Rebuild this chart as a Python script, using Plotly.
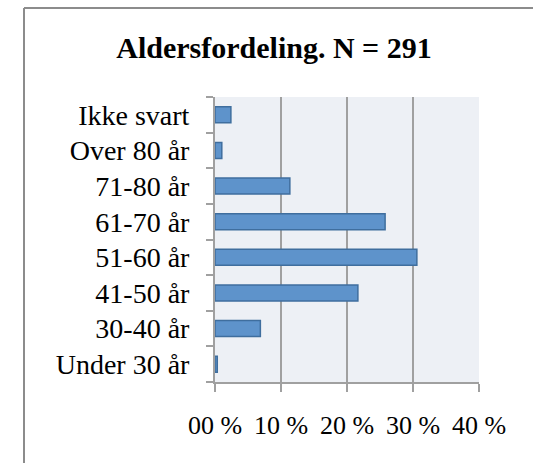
import plotly.graph_objects as go

categories = ["Under 30 år", "30-40 år", "41-50 år", "51-60 år", "61-70 år", "71-80 år", "Over 80 år", "Ikke svart"]
counts = [1, 20, 63, 89, 75, 33, 3, 7]
total = 291
percent = [c / total * 100 for c in counts]
tick_vals = [0, 10, 20, 30, 40]
tick_text = ["00 %", "10 %", "20 %", "30 %", "40 %"]

FONT = "Liberation Serif"
W, H = 533, 463
L, R, T, B = 215, 54, 97, 81
pw, ph = W - L - R, H - T - B

fig = go.Figure(go.Bar(
    x=percent, y=categories, orientation="h",
    marker=dict(color="#5E93CB", line=dict(color="#3F6E9E", width=1.5)),
    width=0.45,
))

fig.update_layout(
    width=W, height=H,
    margin=dict(l=L, r=R, t=T, b=B),
    paper_bgcolor="white", plot_bgcolor="#EDF0F5",
    showlegend=False,
    title=dict(text="<b>Aldersfordeling. N = 291</b>", x=(274 / W), xanchor="center",
               y=1 - 47 / H, yanchor="middle",
               font=dict(family=FONT, size=30, color="black")),
    font=dict(family=FONT, size=26, color="black"),
)

fig.update_xaxes(
    range=[0, 40], tickvals=tick_vals, ticktext=tick_text,
    showgrid=True, gridcolor="#A0A0A0", gridwidth=2,
    showline=True, linecolor="#A0A0A0", linewidth=2,
    ticks="outside", ticklen=8, tickwidth=2, tickcolor="#A0A0A0",
    ticklabelstandoff=11, zeroline=False,
    tickfont=dict(family=FONT, size=26),
)
fig.update_yaxes(
    type="category", categoryorder="array", categoryarray=categories,
    tickson="boundaries", showgrid=False,
    showline=True, linecolor="#A0A0A0", linewidth=2,
    ticks="outside", ticklen=7, tickwidth=2, tickcolor="#A0A0A0",
    ticklabelstandoff=18,
    tickfont=dict(family=FONT, size=28),
)

# outer chart frame (left and top edges; the rest lies outside the image)
frame_x0 = (24 - L) / pw
frame_y1 = (H - 8 - B) / ph
frame_style = dict(color="#8C8C8C", width=2)
fig.add_shape(type="line", xref="paper", yref="paper",
              x0=frame_x0, x1=frame_x0, y0=-B / ph, y1=frame_y1, line=frame_style)
fig.add_shape(type="line", xref="paper", yref="paper",
              x0=frame_x0, x1=(W - L) / pw, y0=frame_y1, y1=frame_y1, line=frame_style)

fig.write_html("out.html", config={"displayModeBar": False, "responsive": False})

# remove default page margin so the figure sits at the window origin
with open("out.html", encoding="utf-8") as f:
    html = f.read()
html = html.replace("<head>", "<head><style>html,body{margin:0;padding:0;overflow:hidden;background:white;} ::-webkit-scrollbar{display:none;}</style>", 1)
with open("out.html", "w", encoding="utf-8") as f:
    f.write(html)
